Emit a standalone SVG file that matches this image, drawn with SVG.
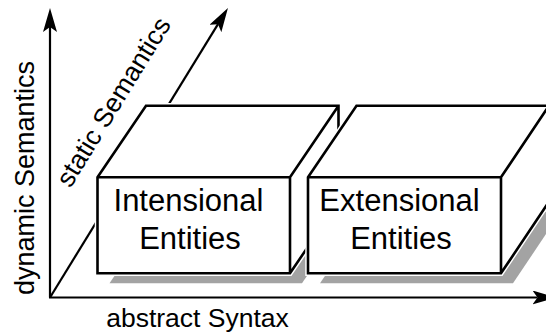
<svg xmlns="http://www.w3.org/2000/svg" width="546" height="335" viewBox="0 0 546 335">
  <style>
    .axis { fill: none; stroke: #000; stroke-width: 2.2; }
    .shadow { fill: #a3a3a3; stroke: none; }
    .halo { fill: #fff; stroke: #fff; stroke-width: 5.5; stroke-linejoin: miter; }
    .edge { fill: none; stroke: #000; stroke-width: 2.6; stroke-linejoin: miter; }
    .lbl { font-family: "Liberation Sans", Arial, sans-serif; fill: #000; }
    .ax { font-size: 26.5px; }
    .bx { font-size: 31px; text-anchor: middle; }
  </style>
  <defs>
    <marker id="arr" viewBox="0 0 24 14" refX="5" refY="7" markerWidth="24" markerHeight="14" markerUnits="userSpaceOnUse" orient="auto">
      <path d="M0,0 L24,7 L0,14 L5,7 Z" fill="#000"/>
    </marker>
  </defs>

  <g id="connectors">
    <line class="axis" x1="50" y1="297.5" x2="50" y2="27" marker-end="url(#arr)"/>
    <line class="axis" x1="49" y1="297.5" x2="537.5" y2="297.5" marker-end="url(#arr)"/>
    <line class="axis" x1="50" y1="297.5" x2="218" y2="24.2" marker-end="url(#arr)"/>
  </g>

  <g id="labels">
    <text class="lbl ax" transform="translate(33.5,178) rotate(-90)" text-anchor="middle" style="font-size:27px">dynamic Semantics</text>
    <text class="lbl ax" x="197.5" y="327" text-anchor="middle">abstract Syntax</text>
    <text class="lbl ax" transform="translate(121,106.5) rotate(-58.37)" text-anchor="middle">static Semantics</text>
  </g>

  <g id="box-intensional">
    <polygon class="shadow" points="109.5,283.3 302,283.3 350.5,211.7 158,211.7"/>
    <path class="halo" d="M97.5,177.3 L146,105.7 L338.5,105.7 L338.5,201.7 L290,273.3 L97.5,273.3 Z"/>
    <path class="edge" d="M97.5,177.3 L146,105.7 L338.5,105.7 L338.5,201.7 L290,273.3 L97.5,273.3 Z M97.5,177.3 H290 L338.5,105.7 M290,177.3 V273.3"/>
    <text class="lbl bx" x="188.5" y="211">Intensional</text>
    <text class="lbl bx" x="190" y="249">Entities</text>
  </g>

  <g id="box-extensional">
    <polygon class="shadow" points="320,283.3 513,283.3 561,211.7 368.5,211.7"/>
    <path class="halo" d="M308,177.3 L356.5,105.7 L549,105.7 L549,201.7 L501,273.3 L308,273.3 Z"/>
    <path class="edge" d="M308,177.3 L356.5,105.7 L549,105.7 L549,201.7 L501,273.3 L308,273.3 Z M308,177.3 H501 L549,105.7 M501,177.3 V273.3"/>
    <text class="lbl bx" x="399.5" y="211">Extensional</text>
    <text class="lbl bx" x="401" y="249">Entities</text>
  </g>
</svg>
